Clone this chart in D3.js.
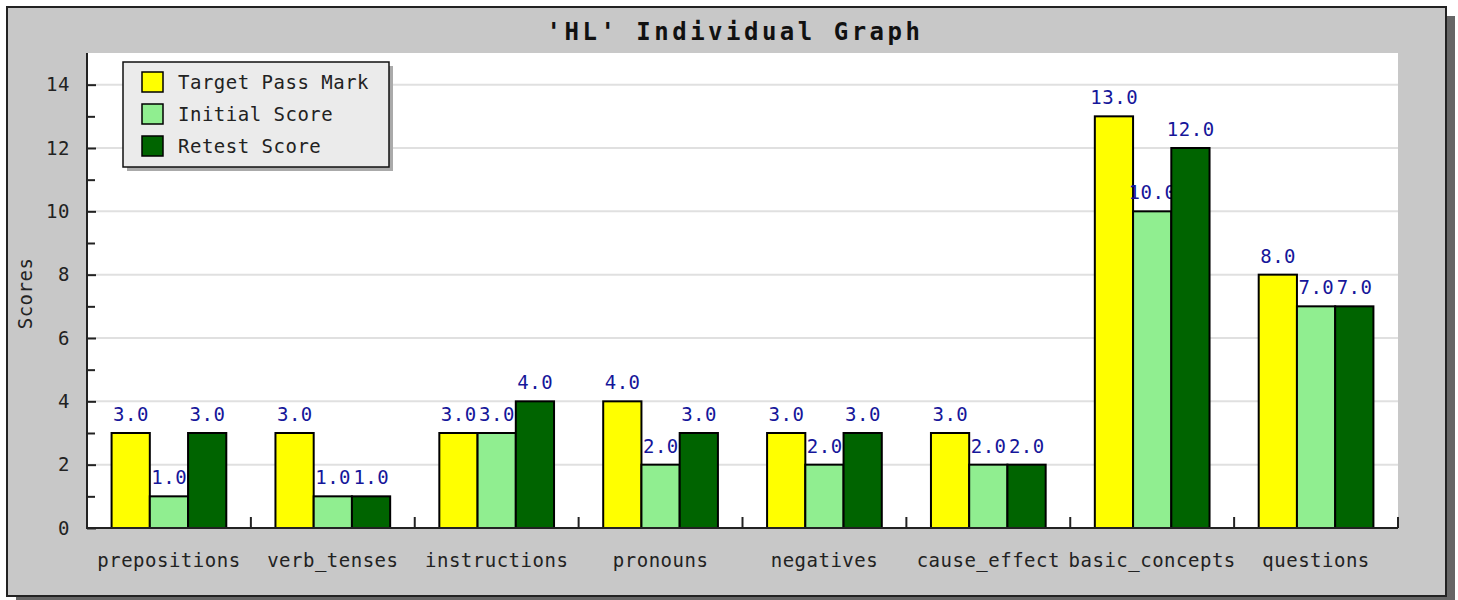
<!DOCTYPE html>
<html>
<head>
<meta charset="utf-8">
<script src="https://cdn.jsdelivr.net/npm/d3@7"></script>
<style>
  body { margin: 0; background: #fff; }
  text { font-family: "DejaVu Sans Mono", monospace; }
</style>
</head>
<body>
<div id="chart"></div>
<script>
// data
var categories = ["prepositions", "verb_tenses", "instructions", "pronouns", "negatives", "cause_effect", "basic_concepts", "questions"]
var seriesNames = ["Target Pass Mark", "Initial Score", "Retest Score"]
var targetPass = [3, 3, 3, 4, 3, 3, 13, 8]
var initialScore = [1, 1, 3, 2, 2, 2, 10, 7]
var retestScore = [3, 1, 4, 3, 3, 2, 12, 7]
var seriesColors = ["#ffff00", "#90ee90", "#006400"]
var yMajor = [0, 2, 4, 6, 8, 10, 12, 14]
var yMinor = [1, 3, 5, 7, 9, 11, 13]

var series = [targetPass, initialScore, retestScore]

var W = 1458, H = 600
var frame = {x: 7, y: 7, w: 1439, h: 589}
var plot = {left: 87, right: 1398, top: 53, bottom: 528}
var FS = 19, LS = 0.5

var svg = d3.select("#chart").append("svg")
    .attr("width", W)
    .attr("height", H)

// frame with shadow
svg.append("rect")
    .attr("x", frame.x + 9).attr("y", frame.y + 9)
    .attr("width", frame.w).attr("height", frame.h)
    .attr("fill", "#666")
svg.append("rect")
    .attr("x", frame.x).attr("y", frame.y)
    .attr("width", frame.w).attr("height", frame.h)
    .attr("fill", "#c8c8c8")
    .attr("stroke", "#222").attr("stroke-width", 2)

svg.append("text")
    .attr("x", 735).attr("y", 40)
    .attr("text-anchor", "middle")
    .attr("font-size", 24).attr("font-weight", "bold")
    .attr("letter-spacing", 3.5)
    .attr("fill", "#111")
    .text("'HL' Individual Graph")

svg.append("rect")
    .attr("x", plot.left).attr("y", plot.top)
    .attr("width", plot.right - plot.left).attr("height", plot.bottom - plot.top)
    .attr("fill", "#fff")

var x = d3.scaleBand().domain(categories).range([plot.left, plot.right])
var bw = x.bandwidth()
var xs = d3.scaleBand().domain(d3.range(series.length)).range([bw * 0.15, bw * 0.85])
var y = d3.scaleLinear().domain([0, 15]).range([plot.bottom, plot.top])

// gridlines
svg.append("g").selectAll("line")
  .data(yMajor.filter(d => d > 0))
  .join("line")
    .attr("x1", plot.left).attr("x2", plot.right)
    .attr("y1", d => y(d)).attr("y2", d => y(d))
    .attr("stroke", "#e0e0e0").attr("stroke-width", 2)

// bars + value labels, one series at a time
series.forEach((vals, si) => {
  var g = svg.append("g")
  g.selectAll("rect")
    .data(vals)
    .join("rect")
      .attr("x", (d, i) => x(categories[i]) + xs(si))
      .attr("y", d => y(d))
      .attr("width", xs.bandwidth())
      .attr("height", d => y(0) - y(d))
      .attr("fill", seriesColors[si])
      .attr("stroke", "#000").attr("stroke-width", 2)
  g.selectAll("text")
    .data(vals)
    .join("text")
      .attr("x", (d, i) => x(categories[i]) + xs(si) + xs.bandwidth() / 2 + 0.3)
      .attr("y", d => y(d) - 12)
      .attr("text-anchor", "middle")
      .attr("font-size", FS).attr("letter-spacing", LS)
      .attr("fill", "#16169a")
      .text(d => d.toFixed(1))
})

// y axis
var yAxis = svg.append("g")
    .attr("transform", "translate(" + plot.left + ",0)")
    .call(d3.axisLeft(y).tickValues(yMajor).tickSize(-9).tickPadding(17))
yAxis.append("g")
    .call(d3.axisLeft(y).tickValues(yMinor).tickSize(-8).tickFormat(""))
yAxis.selectAll(".domain").remove()
yAxis.selectAll("line").attr("stroke", "#222").attr("stroke-width", 2)
yAxis.selectAll("text")
    .attr("font-size", FS).attr("letter-spacing", LS)
    .attr("font-family", "DejaVu Sans Mono").attr("fill", "#222")
svg.append("line")
    .attr("x1", plot.left).attr("x2", plot.left)
    .attr("y1", plot.top).attr("y2", plot.bottom)
    .attr("stroke", "#222").attr("stroke-width", 2)

svg.append("text")
    .attr("transform", "translate(32," + ((plot.top + plot.bottom) / 2 + 3) + ") rotate(-90)")
    .attr("text-anchor", "middle")
    .attr("font-size", FS).attr("letter-spacing", LS)
    .attr("fill", "#222")
    .text("Scores")

// x axis
var xAxis = svg.append("g")
    .attr("transform", "translate(0," + plot.bottom + ")")
    .call(d3.axisBottom(x).tickSize(0).tickPadding(26))
xAxis.select(".domain").remove()
xAxis.selectAll("text")
    .attr("font-size", FS).attr("letter-spacing", LS)
    .attr("font-family", "DejaVu Sans Mono").attr("fill", "#222")
xAxis.selectAll(".bound")
  .data(categories)
  .join("line")
    .attr("class", "bound")
    .attr("x1", d => x(d) + bw).attr("x2", d => x(d) + bw)
    .attr("y1", 0).attr("y2", -11)
    .attr("stroke", "#222").attr("stroke-width", 2)
svg.append("line")
    .attr("x1", plot.left - 1).attr("x2", plot.right)
    .attr("y1", plot.bottom).attr("y2", plot.bottom)
    .attr("stroke", "#222").attr("stroke-width", 2)

// legend
var lg = svg.append("g").attr("transform", "translate(123,62)")
lg.append("rect")
    .attr("x", 4).attr("y", 4).attr("width", 266).attr("height", 105)
    .attr("fill", "#aaa")
lg.append("rect")
    .attr("width", 266).attr("height", 105)
    .attr("fill", "#ebebeb")
    .attr("stroke", "#111").attr("stroke-width", 1.5)
var rows = lg.selectAll(".row")
  .data(seriesNames)
  .join("g")
    .attr("class", "row")
    .attr("transform", (d, i) => "translate(0," + (20 + i * 32) + ")")
rows.append("rect")
    .attr("x", 19).attr("y", -10).attr("width", 21).attr("height", 20)
    .attr("fill", (d, i) => seriesColors[i])
    .attr("stroke", "#000").attr("stroke-width", 1.5)
rows.append("text")
    .attr("x", 55).attr("y", 0).attr("dy", "0.35em")
    .attr("font-size", FS).attr("letter-spacing", LS)
    .attr("fill", "#222")
    .text(d => d)
</script>
</body>
</html>
